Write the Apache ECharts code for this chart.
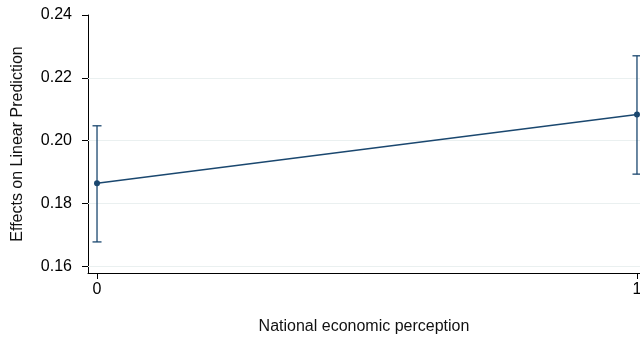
<!DOCTYPE html>
<html>
<head>
<meta charset="utf-8">
<script src="https://cdn.jsdelivr.net/npm/echarts@6/dist/echarts.min.js"></script>
<style>
html,body{margin:0;padding:0;background:#fff;}
#chart{width:640px;height:338px;}
</style>
</head>
<body>
<div id="chart"></div>
<script>
// Margins plot: effect estimates with 95% confidence intervals
const categories = [0, 1];
const estimates = [0.1864, 0.2083];
const ciLower = [0.1677, 0.1893];
const ciUpper = [0.2047, 0.2270];
const yTicks = [0.16, 0.18, 0.20, 0.22, 0.24];
const gridValues = [0.16, 0.18, 0.20, 0.22];

const navy = '#1a476f';
const font = '"Liberation Sans", Arial, Helvetica, sans-serif';

const chart = echarts.init(document.getElementById('chart'), null, {renderer: 'canvas'});

chart.setOption({
  animation: false,
  backgroundColor: '#ffffff',
  grid: {left: 88, right: 0, top: 15, bottom: 65, containLabel: false, outerBoundsMode: 'none'},
  xAxis: {
    type: 'value',
    min: -0.0167,
    max: 1.0056,
    name: 'National economic perception',
    nameLocation: 'middle',
    nameGap: 46,
    nameTextStyle: {fontFamily: font, fontSize: 16, color: '#111'},
    axisLine: {show: true, onZero: false, lineStyle: {color: '#000', width: 1}},
    axisTick: {show: true, length: 6, customValues: categories, lineStyle: {color: '#000'}},
    axisLabel: {customValues: categories, fontFamily: font, fontSize: 16, color: '#000', margin: 9},
    splitLine: {show: false}
  },
  yAxis: {
    type: 'value',
    min: 0.1578,
    max: 0.24,
    name: 'Effects on Linear Prediction',
    nameLocation: 'middle',
    nameGap: 62,
    nameRotate: 90,
    nameTextStyle: {fontFamily: font, fontSize: 16, color: '#111'},
    axisLine: {show: true, onZero: false, lineStyle: {color: '#000', width: 1}},
    axisTick: {show: true, length: 6, customValues: yTicks, lineStyle: {color: '#000'}},
    axisLabel: {customValues: yTicks, fontFamily: font, fontSize: 16, color: '#000', margin: 16,
      formatter: v => v.toFixed(2)},
    splitLine: {show: false}
  },
  series: [
    {
      type: 'line',
      data: categories.map((c, i) => [c, estimates[i]]),
      symbol: 'circle',
      symbolSize: 6,
      lineStyle: {color: navy, width: 1.3},
      itemStyle: {color: navy},
      z: 5,
      markLine: {
        silent: true,
        symbol: 'none',
        label: {show: false},
        lineStyle: {color: '#eaf0f0', width: 1, type: 'solid'},
        data: gridValues.map(v => ({yAxis: v})),
        z: 1
      }
    },
    {
      type: 'custom',
      z: 4,
      data: categories.map((c, i) => [c, ciLower[i], ciUpper[i]]),
      renderItem: function (params, api) {
        const x = api.value(0);
        const lo = api.coord([x, api.value(1)]);
        const hi = api.coord([x, api.value(2)]);
        const half = 4.5;
        const style = {stroke: navy, lineWidth: 1.3, fill: null};
        return {
          type: 'group',
          children: [
            {type: 'line', shape: {x1: lo[0], y1: lo[1], x2: hi[0], y2: hi[1]}, style: style},
            {type: 'line', shape: {x1: lo[0] - half, y1: lo[1], x2: lo[0] + half, y2: lo[1]}, style: style},
            {type: 'line', shape: {x1: hi[0] - half, y1: hi[1], x2: hi[0] + half, y2: hi[1]}, style: style}
          ]
        };
      }
    }
  ]
});
</script>
</body>
</html>
